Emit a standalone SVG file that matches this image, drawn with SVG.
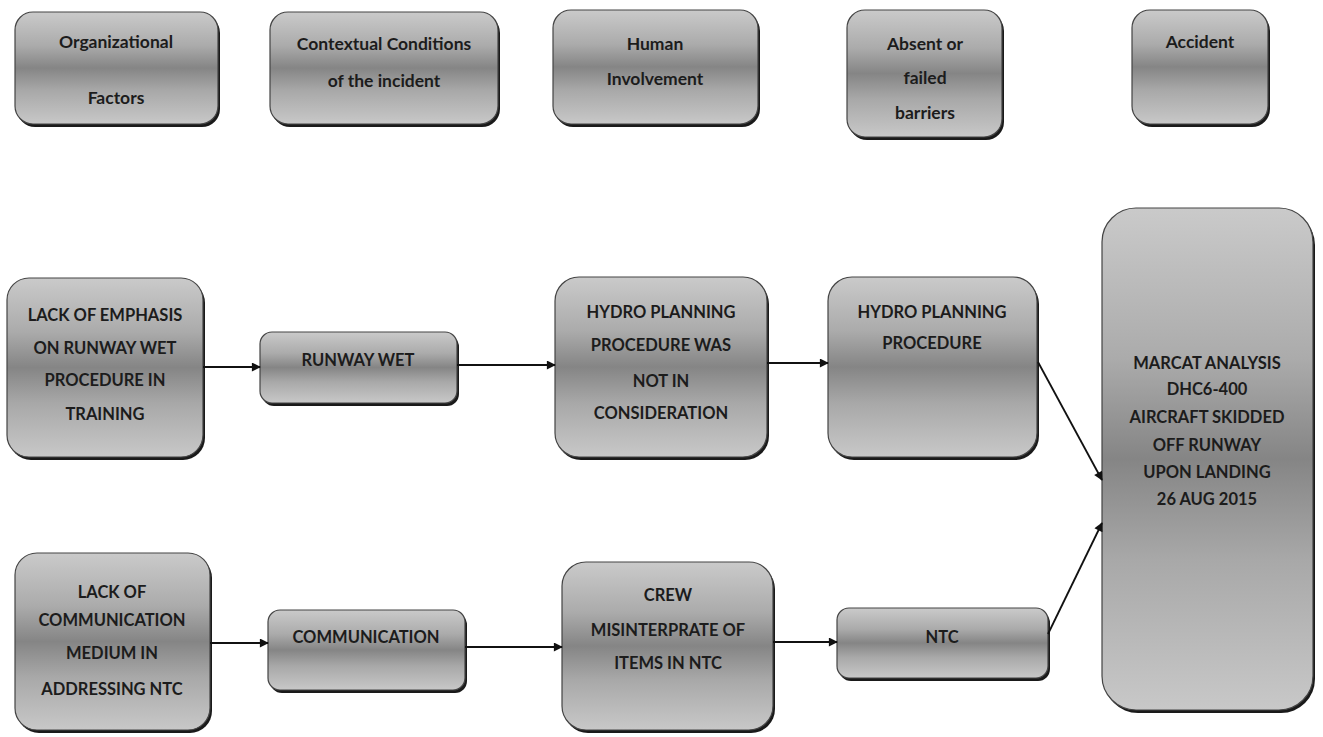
<svg xmlns="http://www.w3.org/2000/svg" width="1323" height="737" viewBox="0 0 1323 737">
<defs>
<linearGradient id="g" x1="0" y1="0" x2="0" y2="1">
<stop offset="0" stop-color="#cacaca"/>
<stop offset="0.3" stop-color="#ababab"/>
<stop offset="0.5" stop-color="#858585"/>
<stop offset="0.7" stop-color="#a8a8a8"/>
<stop offset="1" stop-color="#c8c8c8"/>
</linearGradient>
<marker id="arr" viewBox="0 0 10 10" refX="9" refY="5" markerWidth="10" markerHeight="9" markerUnits="userSpaceOnUse" orient="auto">
<path d="M0,0 L10,5 L0,10 z" fill="#111"/>
</marker>
</defs>
<style>
.box{fill:url(#g);stroke:#444;stroke-width:1.2}
.sh{fill:#1a1a1a}
text{font-family:Lato,"Liberation Sans",sans-serif;font-weight:bold;fill:#1c1c1c;text-anchor:middle;dominant-baseline:central}
.h{font-size:17.5px}
.t{font-size:16.5px}
.c{stroke:#111;stroke-width:1.8;fill:none;marker-end:url(#arr)}
</style>
<rect width="1323" height="737" fill="#fff"/>

<g id="n-org">
<rect class="sh" x="17" y="15" width="203" height="112" rx="18"/>
<rect class="box" x="15" y="12" width="203" height="112" rx="18"/>
<text class="h" x="116" y="41">Organizational</text>
<text class="h" x="116" y="97">Factors</text>
</g>
<g id="n-ctx">
<rect class="sh" x="272" y="15" width="228" height="112" rx="18"/>
<rect class="box" x="270" y="12" width="228" height="112" rx="18"/>
<text class="h" x="384" y="43">Contextual Conditions</text>
<text class="h" x="384" y="80">of the incident</text>
</g>
<g id="n-hum">
<rect class="sh" x="555" y="13" width="205" height="114" rx="18"/>
<rect class="box" x="553" y="10" width="205" height="114" rx="18"/>
<text class="h" x="655" y="43">Human</text>
<text class="h" x="655" y="78">Involvement</text>
</g>
<g id="n-bar">
<rect class="sh" x="849" y="13" width="155" height="127" rx="18"/>
<rect class="box" x="847" y="10" width="155" height="127" rx="18"/>
<text class="h" x="925" y="43">Absent or</text>
<text class="h" x="925" y="77">failed</text>
<text class="h" x="925" y="112">barriers</text>
</g>
<g id="n-acc">
<rect class="sh" x="1134" y="13" width="136" height="114" rx="18"/>
<rect class="box" x="1132" y="10" width="136" height="114" rx="18"/>
<text class="h" x="1200" y="41">Accident</text>
</g>

<g id="n-lack1">
<rect class="sh" x="9" y="281" width="196" height="179" rx="22"/>
<rect class="box" x="7" y="278" width="196" height="179" rx="22"/>
<text class="t" x="105" y="315">LACK OF EMPHASIS</text>
<text class="t" x="105" y="348">ON RUNWAY WET</text>
<text class="t" x="105" y="380">PROCEDURE IN</text>
<text class="t" x="105" y="414">TRAINING</text>
</g>
<g id="n-rwet">
<rect class="sh" x="262" y="335" width="197" height="71" rx="12"/>
<rect class="box" x="260" y="332" width="197" height="71" rx="12"/>
<text class="t" x="358" y="360">RUNWAY WET</text>
</g>
<g id="n-hydro1">
<rect class="sh" x="557" y="280" width="212" height="180" rx="24"/>
<rect class="box" x="555" y="277" width="212" height="180" rx="24"/>
<text class="t" x="661" y="312">HYDRO PLANNING</text>
<text class="t" x="661" y="345">PROCEDURE WAS</text>
<text class="t" x="661" y="381">NOT IN</text>
<text class="t" x="661" y="413">CONSIDERATION</text>
</g>
<g id="n-hydro2">
<rect class="sh" x="830" y="280" width="209" height="180" rx="24"/>
<rect class="box" x="828" y="277" width="209" height="180" rx="24"/>
<text class="t" x="932" y="312">HYDRO PLANNING</text>
<text class="t" x="932" y="343">PROCEDURE</text>
</g>
<g id="n-marcat">
<rect class="sh" x="1104" y="211" width="211" height="502" rx="34"/>
<rect class="box" x="1102" y="208" width="211" height="502" rx="34"/>
<text class="t" x="1207" y="363">MARCAT ANALYSIS</text>
<text class="t" x="1207" y="389">DHC6-400</text>
<text class="t" x="1207" y="417">AIRCRAFT SKIDDED</text>
<text class="t" x="1207" y="445">OFF RUNWAY</text>
<text class="t" x="1207" y="472">UPON LANDING</text>
<text class="t" x="1207" y="499">26 AUG 2015</text>
</g>

<g id="n-lack2">
<rect class="sh" x="17" y="556" width="195" height="177" rx="22"/>
<rect class="box" x="15" y="553" width="195" height="177" rx="22"/>
<text class="t" x="112" y="592">LACK OF</text>
<text class="t" x="112" y="620">COMMUNICATION</text>
<text class="t" x="112" y="653">MEDIUM IN</text>
<text class="t" x="112" y="689">ADDRESSING NTC</text>
</g>
<g id="n-comm">
<rect class="sh" x="270" y="613" width="197" height="80" rx="12"/>
<rect class="box" x="268" y="610" width="197" height="80" rx="12"/>
<text class="t" x="366" y="637">COMMUNICATION</text>
</g>
<g id="n-crew">
<rect class="sh" x="564" y="565" width="211" height="168" rx="24"/>
<rect class="box" x="562" y="562" width="211" height="168" rx="24"/>
<text class="t" x="668" y="595">CREW</text>
<text class="t" x="668" y="630">MISINTERPRATE OF</text>
<text class="t" x="668" y="663">ITEMS IN NTC</text>
</g>
<g id="n-ntc">
<rect class="sh" x="839" y="611" width="211" height="70" rx="12"/>
<rect class="box" x="837" y="608" width="211" height="70" rx="12"/>
<text class="t" x="942" y="637">NTC</text>
</g>

<g id="connectors">
<line class="c" x1="203" y1="367" x2="260" y2="367"/>
<line class="c" x1="457" y1="365" x2="555" y2="365"/>
<line class="c" x1="767" y1="363" x2="828" y2="363"/>
<line class="c" x1="1038" y1="362" x2="1102" y2="480"/>
<line class="c" x1="210" y1="643" x2="268" y2="643"/>
<line class="c" x1="465" y1="647" x2="562" y2="647"/>
<line class="c" x1="773" y1="642" x2="837" y2="642"/>
<line class="c" x1="1048" y1="634" x2="1102" y2="523"/>
</g>
</svg>
